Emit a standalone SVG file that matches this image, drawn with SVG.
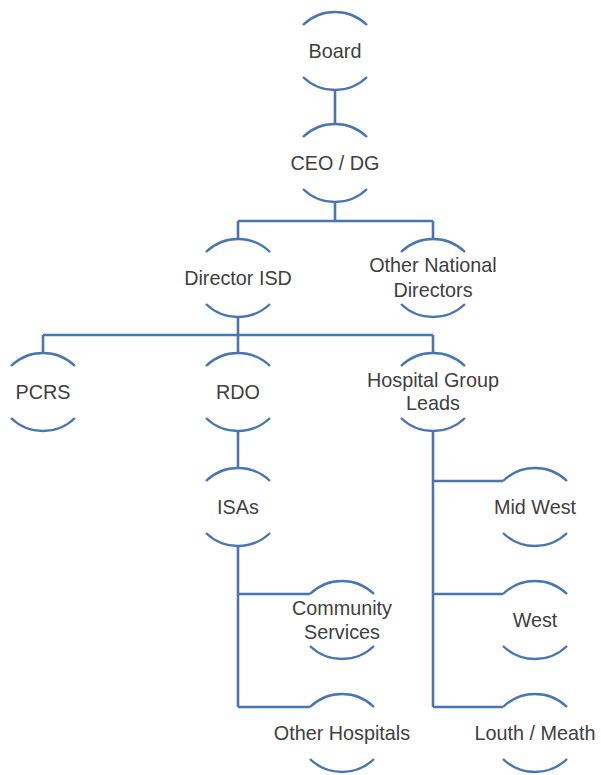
<svg xmlns="http://www.w3.org/2000/svg" xmlns:xlink="http://www.w3.org/1999/xlink" width="601" height="775" viewBox="0 0 601 775">
<style>
.arc{fill:none;stroke:#4a75b0;stroke-width:2.4;stroke-linecap:butt}
.ln{fill:none;stroke:#4a75b0;stroke-width:2.6}
.t{font-family:"Liberation Sans",Arial,sans-serif;font-size:19.8px;fill:#404040;text-anchor:middle}
</style>
<defs>
<path id="node" class="arc" d="M -32 -26 A 46 46 0 0 1 32 -26 M -32 26 A 46 46 0 0 0 32 26"/>
</defs>
<rect width="601" height="775" fill="#ffffff"/>
<g id="connectors">
<path class="ln" d="M335 90 V125"/>
<path class="ln" d="M335 202 V221 M238 221 H433 M238 221 V239 M433 221 V239"/>
<path class="ln" d="M238 317 V335 M43 335 H433 M43 335 V353 M238 335 V353 M433 335 V353"/>
<path class="ln" d="M238 431 V468"/>
<path class="ln" d="M238 546 V707 M238 594 H310 M238 707 H310"/>
<path class="ln" d="M433 431 V707 M433 481 H503 M433 594 H503 M433 707 H503"/>
</g>
<g id="board"><use xlink:href="#node" x="335" y="51"/><text class="t" x="335" y="57.5">Board</text></g>
<g id="ceo"><use xlink:href="#node" x="335" y="163"/><text class="t" x="335" y="169.5">CEO / DG</text></g>
<g id="director-isd"><use xlink:href="#node" x="238" y="278"/><text class="t" x="238" y="284.5">Director ISD</text></g>
<g id="other-national-directors"><use xlink:href="#node" x="433" y="278"/><text class="t" x="433" y="271.5">Other National</text><text class="t" x="433" y="296.5">Directors</text></g>
<g id="pcrs"><use xlink:href="#node" x="43" y="392"/><text class="t" x="43" y="398.5">PCRS</text></g>
<g id="rdo"><use xlink:href="#node" x="238" y="392"/><text class="t" x="238" y="398.5">RDO</text></g>
<g id="hospital-group-leads"><use xlink:href="#node" x="433" y="392"/><text class="t" x="433" y="386.5">Hospital Group</text><text class="t" x="433" y="409.5">Leads</text></g>
<g id="isas"><use xlink:href="#node" x="238" y="507"/><text class="t" x="238" y="513.5">ISAs</text></g>
<g id="community-services"><use xlink:href="#node" x="342" y="620"/><text class="t" x="342" y="614.5">Community</text><text class="t" x="342" y="638.5">Services</text></g>
<g id="other-hospitals"><use xlink:href="#node" x="342" y="733"/><text class="t" x="342" y="739.5">Other Hospitals</text></g>
<g id="mid-west"><use xlink:href="#node" x="535" y="507"/><text class="t" x="535" y="513.5">Mid West</text></g>
<g id="west"><use xlink:href="#node" x="535" y="620"/><text class="t" x="535" y="626.5">West</text></g>
<g id="louth-meath"><use xlink:href="#node" x="535" y="733"/><text class="t" x="535" y="739.5">Louth / Meath</text></g>
</svg>
